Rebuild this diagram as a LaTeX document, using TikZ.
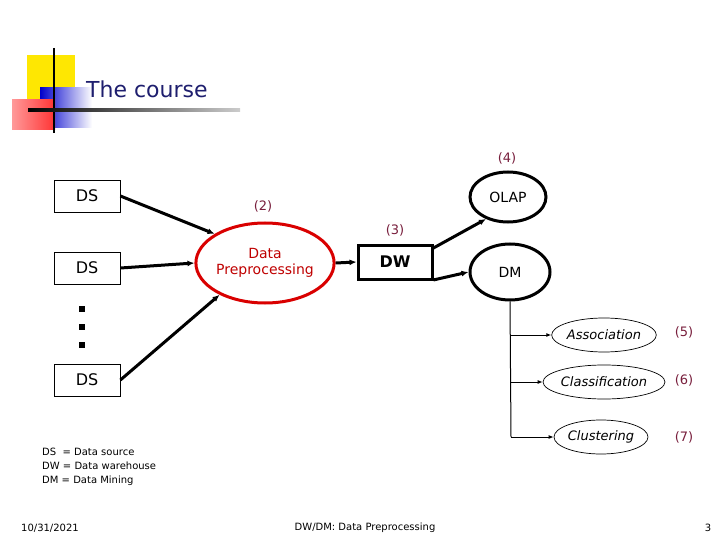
\documentclass[tikz,border=0pt]{standalone}
\usepackage{fontspec}
\setmainfont{DejaVu Sans}
\usetikzlibrary{shapes.geometric,arrows.meta}
\definecolor{navy}{RGB}{30,30,110}
\definecolor{lbl}{RGB}{120,30,60}
\begin{document}
\begin{tikzpicture}[x=1pt,y=-1pt,
 ds/.style={draw,line width=0.8pt,minimum width=66pt,minimum height=32pt,font=\fontsize{16}{18}\selectfont},
 arr/.style={line width=3pt,-{Latex[length=7pt,width=6pt]}},
 tarr/.style={line width=1pt,-{Latex[length=5pt,width=4pt]}},
 big/.style={ellipse,draw,line width=3pt,inner sep=0pt},
 sm/.style={ellipse,draw,line width=0.7pt,minimum width=94pt,minimum height=34pt,inner sep=0pt,font=\itshape\fontsize{13}{15}\selectfont},
 num/.style={text=lbl,font=\fontsize{13}{15}\selectfont},
 small/.style={font=\fontsize{10}{14}\selectfont}]
\useasboundingbox (0,0) rectangle (720,540);
% logo
\fill[yellow!90!orange] (27,55) rectangle (75,100);
\shade[left color=blue!80!black,right color=white] (40,88) rectangle (92,128);
\shade[left color=red!40,right color=red!80] (12,100) rectangle (55,130);
\draw[line width=2pt] (54,48) -- (54,133);
\shade[left color=black,right color=gray!40] (28,108.5) rectangle (240,111.5);
\node[anchor=west,text=navy,font=\fontsize{22}{26}\selectfont,inner sep=0pt] (title) at (86,89) {The course};
% DS
\node[ds] (ds1) at (87,196) {DS};
\node[ds] (ds2) at (87,268) {DS};
\node[ds] (ds3) at (87,380) {DS};
\foreach \y in {309,327,345} \fill (79,\y-3) rectangle (85,\y+3);
% DP
\node[ellipse,draw=red!85!black,line width=3pt,minimum width=116pt,minimum height=80pt,inner sep=0pt,align=center,text=red!75!black,font=\fontsize{14}{16}\selectfont] (dp) at (265,263) {Data\\Preprocessing};
\node[num] (n2) at (263,206) {(2)};
\node[draw,line width=3pt,minimum width=74pt,minimum height=34pt,font=\bfseries\fontsize{16}{18}\selectfont] (dw) at (395,262) {DW};
\node[num] (n3) at (395,230) {(3)};
\node[big,minimum width=76pt,minimum height=50pt,font=\fontsize{14}{16}\selectfont] (olap) at (508,197) {OLAP};
\node[num] (n4) at (507,158) {(4)};
\node[big,minimum width=80pt,minimum height=56pt,font=\fontsize{14}{16}\selectfont] (dm) at (510,272) {DM};
\draw[arr] (ds1.east) -- (dp.150);
\draw[arr] (ds2.east) -- (dp.west);
\draw[arr] (ds3.east) -- (dp.215);
\draw[arr] (dp.east) -- (dw.west);
\draw[arr] (dw.20) -- (olap.225);
\draw[arr] (dw.-25) -- (dm.west);
\node[sm] (as) at (604,335) {Association};
\node[sm] (cl) at (604,382) {Classification};
\node[sm] (cu) at (601,437) {Clustering};
\coordinate (t1) at (511,335); \coordinate (t2) at (511,382); \coordinate (t3) at (511,437);
\draw[line width=1pt] (dm.south) -- (t3);
\draw[tarr] (t1) -- (as.west);
\draw[tarr] (t2) -- (cl.west);
\draw[tarr] (t3) -- (cu.west);
\node[num] (n5) at (684,332) {(5)};
\node[num] (n6) at (684,380) {(6)};
\node[num] (n7) at (684,437) {(7)};
\node[anchor=north west,small,align=left,inner sep=0pt] (leg) at (42,448) {DS\ \ = Data source\\DW = Data warehouse\\DM = Data Mining};
\node[small] (date) at (50,528) {10/31/2021};
\node[small] (foot) at (365,528) {DW/DM: Data Preprocessing};
\node[small] (pg) at (708,528) {3};
\end{tikzpicture}
\end{document}
